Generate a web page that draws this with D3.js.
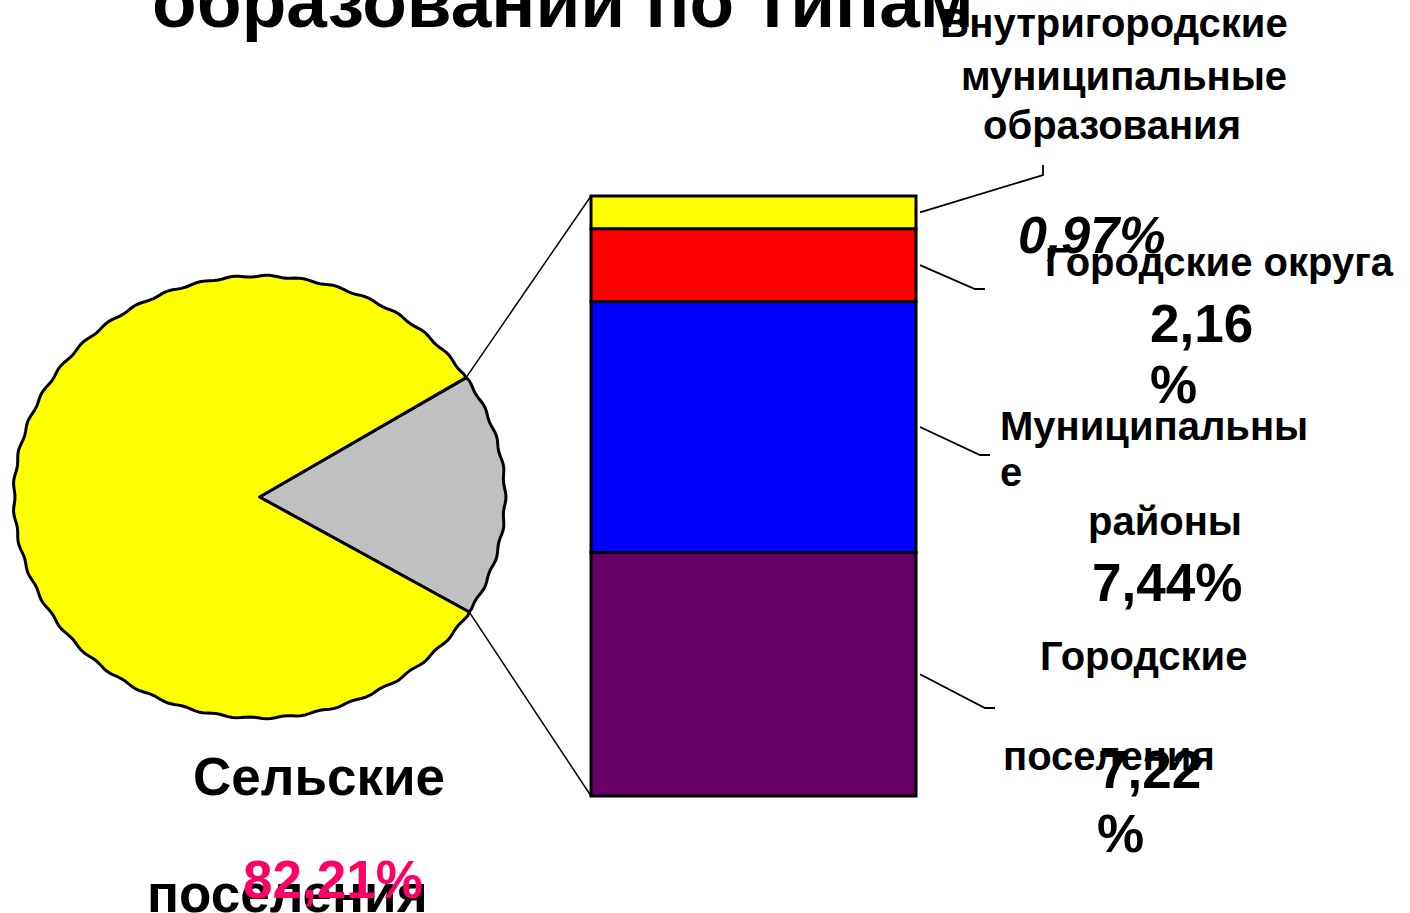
<!DOCTYPE html>
<html>
<head>
<meta charset="utf-8">
<script src="https://cdn.jsdelivr.net/npm/d3@7"></script>
<style>
  html, body { margin: 0; padding: 0; background: #fff; }
  svg text { font-family: "Liberation Sans", Arial, sans-serif; font-weight: bold; fill: #000; }
</style>
</head>
<body>
<div id="chart"></div>
<script>
// data
var pieCategories = ["Сельские поселения", "Прочие"];
var pieValues = [82.21, 17.79];
var pieColors = ["#FFFF00", "#C0C0C0"];

var barCategories = ["Городские поселения", "Муниципальные районы", "Городские округа", "Внутригородские муниципальные образования"];
var barValues = [7.22, 7.44, 2.16, 0.97];
var barColors = ["#660066", "#0000FF", "#FF0000", "#FFFF00"];

var title = "образований по типам";

var width = 1410, height = 913;

var svg = d3.select("#chart")
  .append("svg")
    .attr("width", width)
    .attr("height", height);

// title (first line is off the top of the slide)
svg.append("text")
  .attr("x", 152)
  .attr("y", 27)
  .style("font-size", "73px")
  .text(title);

// pie, slightly flattened, with the gray slice pointing at the bar
var cx = 259.5, cy = 497, rx = 245.5, ry = 221;
var startDeg = 57.3;

var pie = d3.pie()
  .sort(null)
  .startAngle(startDeg * Math.PI / 180)
  .endAngle(startDeg * Math.PI / 180 + 2 * Math.PI);

var arcs = pie([pieValues[1], pieValues[0]]);

function ellPoint(a, wob) {
  var w = wob ? 1 + 0.004 * Math.sin(a * 45) : 1;
  return [cx + rx * w * Math.sin(a), cy - ry * w * Math.cos(a)];
}

function slicePath(d) {
  var pts = [[cx, cy]];
  var n = Math.ceil((d.endAngle - d.startAngle) / (Math.PI / 180));
  for (var i = 0; i <= n; i++) {
    var a = d.startAngle + (d.endAngle - d.startAngle) * i / n;
    pts.push(ellPoint(a, i > 0 && i < n));
  }
  return d3.line()(pts) + "Z";
}

svg.append("g")
  .selectAll("path")
  .data(arcs)
  .enter()
  .append("path")
    .attr("d", slicePath)
    .attr("fill", function (d, i) { return i === 0 ? pieColors[1] : pieColors[0]; })
    .attr("stroke", "#000")
    .attr("stroke-width", 3)
    .attr("stroke-linejoin", "round");

// stacked bar
var barX0 = 591, barX1 = 916;
var y = d3.scaleLinear()
  .domain([0, d3.sum(barValues)])
  .range([796, 196]);

var stacked = [];
var acc = 0;
barValues.forEach(function (v, i) {
  stacked.push({ y0: acc, y1: acc + v, color: barColors[i], name: barCategories[i], value: v });
  acc += v;
});

svg.append("g")
  .selectAll("rect")
  .data(stacked)
  .enter()
  .append("rect")
    .attr("x", barX0)
    .attr("y", function (d) { return y(d.y1); })
    .attr("width", barX1 - barX0)
    .attr("height", function (d) { return y(d.y0) - y(d.y1); })
    .attr("fill", function (d) { return d.color; })
    .attr("stroke", "#000")
    .attr("stroke-width", 3);

// connector lines pie -> bar
var gray = arcs[0];
var pTop = ellPoint(gray.startAngle, false);
var pBot = ellPoint(gray.endAngle, false);
svg.append("line")
  .attr("x1", pTop[0]).attr("y1", pTop[1])
  .attr("x2", barX0).attr("y2", y(d3.sum(barValues)))
  .attr("stroke", "#000").attr("stroke-width", 1.5);
svg.append("line")
  .attr("x1", pBot[0]).attr("y1", pBot[1])
  .attr("x2", barX0).attr("y2", y(0))
  .attr("stroke", "#000").attr("stroke-width", 1.5);

// leader lines, one per bar segment (bottom to top)
var leaderEnds = [
  [[985, 708], [995, 708]],
  [[980, 455], [990, 455]],
  [[975, 289], [985, 289]],
  [[1043, 175], [1043, 165]]
];
svg.append("g")
  .selectAll("path")
  .data(stacked)
  .enter()
  .append("path")
    .attr("d", function (d, i) {
      var pts = [[barX1 + 4, y((d.y0 + d.y1) / 2)]].concat(leaderEnds[i]);
      return d3.line()(pts);
    })
    .attr("fill", "none")
    .attr("stroke", "#000")
    .attr("stroke-width", 1.8);

// labels (text broken the way the slide wraps it)
var labels = [
  { t: "Внутригородские", x: 1114, y: 37, a: "middle", s: 40 },
  { t: "муниципальные", x: 1124, y: 90, a: "middle", s: 40 },
  { t: "образования", x: 1112, y: 139, a: "middle", s: 40 },
  { t: "0,97%", x: 1018, y: 253, a: "start", s: 52, italic: true },
  { t: "Городские округа", x: 1045, y: 276, a: "start", s: 40 },
  { t: "2,16", x: 1150, y: 342, a: "start", s: 53 },
  { t: "%", x: 1150, y: 403, a: "start", s: 53 },
  { t: "Муниципальны", x: 1000, y: 440, a: "start", s: 40 },
  { t: "е", x: 1000, y: 486, a: "start", s: 40 },
  { t: "районы", x: 1088, y: 535, a: "start", s: 40 },
  { t: "7,44%", x: 1092, y: 601, a: "start", s: 53 },
  { t: "Городские", x: 1040, y: 670, a: "start", s: 40 },
  { t: "поселения", x: 1003, y: 770, a: "start", s: 40 },
  { t: "7,22", x: 1098, y: 788, a: "start", s: 53 },
  { t: "%", x: 1097, y: 852, a: "start", s: 53 },
  { t: "Сельские", x: 193, y: 795, a: "start", s: 53 },
  { t: "поселения", x: 147, y: 912, a: "start", s: 53 },
  { t: "82,21%", x: 243, y: 898, a: "start", s: 53, color: "#FF0066" }
];

svg.append("g")
  .selectAll("text")
  .data(labels)
  .enter()
  .append("text")
    .attr("x", function (d) { return d.x; })
    .attr("y", function (d) { return d.y; })
    .attr("text-anchor", function (d) { return d.a; })
    .style("font-size", function (d) { return d.s + "px"; })
    .style("font-style", function (d) { return d.italic ? "italic" : "normal"; })
    .style("fill", function (d) { return d.color || "#000"; })
    .text(function (d) { return d.t; });
</script>
</body>
</html>
